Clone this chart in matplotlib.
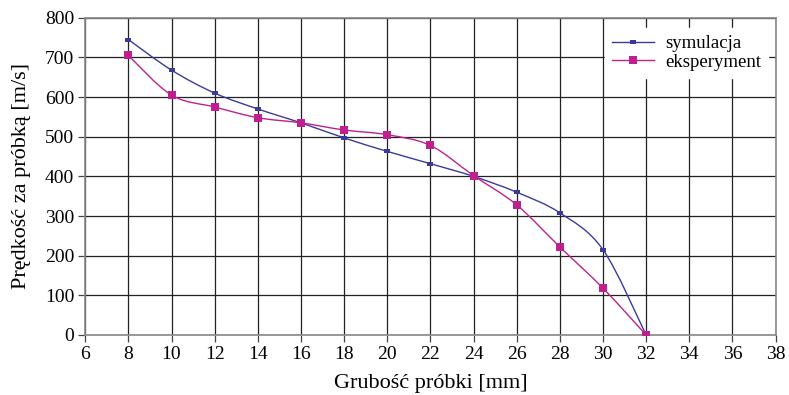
import numpy as np
import matplotlib.pyplot as plt
from matplotlib.path import Path
from matplotlib.patches import PathPatch

grubosc = [8, 10, 12, 14, 16, 18, 20, 22, 24, 26, 28, 30, 32]
symulacja = [745, 668, 610, 570, 535, 497, 463, 432, 400, 360, 308, 215, 0]
eksperyment = [705, 605, 575, 548, 535, 517, 505, 478, 402, 328, 222, 118, 0]

plt.rcParams['font.family'] = ['Liberation Serif', 'DejaVu Serif']


def smooth_path(x, y, t=0.5):
    # Excel-like smoothed line: Catmull-Rom segments as cubic Bezier curves
    x = np.asarray(x, float)
    y = np.asarray(y, float)
    verts = [(x[0], y[0])]
    codes = [Path.MOVETO]
    n = len(x)
    for i in range(n - 1):
        p0 = (x[i - 1], y[i - 1]) if i > 0 else (x[i], y[i])
        p1 = (x[i], y[i])
        p2 = (x[i + 1], y[i + 1])
        p3 = (x[i + 2], y[i + 2]) if i + 2 < n else (x[i + 1], y[i + 1])
        c1 = (p1[0] + (p2[0] - p0[0]) * t / 3, p1[1] + (p2[1] - p0[1]) * t / 3)
        c2 = (p2[0] - (p3[0] - p1[0]) * t / 3, p2[1] - (p3[1] - p1[1]) * t / 3)
        verts += [c1, c2, p2]
        codes += [Path.CURVE4] * 3
    return Path(verts, codes)


blue = '#3a3a9c'
pink = '#c0208f'
dash = [(-1, -0.45), (1, -0.45), (1, 0.45), (-1, 0.45), (-1, -0.45)]

fig, ax = plt.subplots(figsize=(7.89, 3.95), dpi=100)
fig.subplots_adjust(left=0.108, right=0.983, top=0.955, bottom=0.152)

for yv, col in [(symulacja, blue), (eksperyment, pink)]:
    ax.add_patch(PathPatch(smooth_path(grubosc, yv), facecolor='none',
                           edgecolor=col, lw=1.0, zorder=3))

ax.plot(grubosc, symulacja, ls='none', marker=dash, ms=5, mew=0,
        color=blue, zorder=4)
ax.plot(grubosc, eksperyment, ls='none', marker='s', ms=5.5, mew=0,
        color=pink, zorder=4)

ax.plot([], [], color=blue, lw=1.0, marker=dash, ms=5, mew=0, label='symulacja')
ax.plot([], [], color=pink, lw=1.0, marker='s', ms=5.5, mew=0, label='eksperyment')

ax.set_xlim(6, 38)
ax.set_ylim(0, 800)
ax.set_xticks(range(6, 39, 2))
ax.set_yticks(range(0, 801, 100))
ax.grid(True, color='#222222', lw=0.9)
ax.set_axisbelow(True)
for s in ax.spines.values():
    s.set_color('#888888')
    s.set_linewidth(1.2)
ax.tick_params(direction='out', length=5, width=0.9, color='#444444',
               labelsize=14, pad=3)

ax.set_xlabel('Grubość próbki [mm]', fontsize=16, labelpad=8)
ax.set_ylabel('Prędkość za próbką [m/s]', fontsize=16, labelpad=10)

leg = ax.legend(loc='upper right', bbox_to_anchor=(0.995, 0.98), frameon=True,
                fancybox=False, edgecolor='white', framealpha=1,
                fontsize=13.5, handlelength=2.2, borderaxespad=0.2,
                labelspacing=0.05, handletextpad=0.6)

plt.savefig('out.png')
